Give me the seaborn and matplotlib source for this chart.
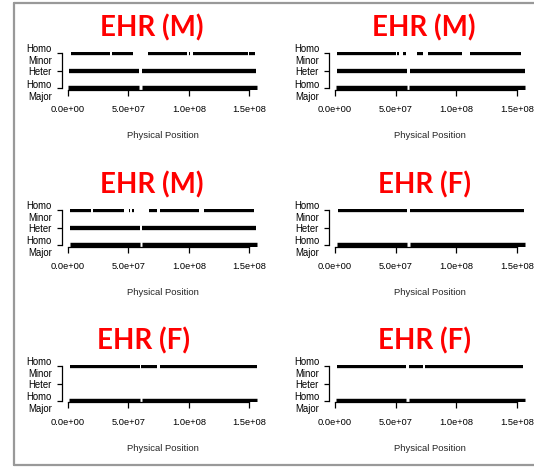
import numpy as np
import pandas as pd
import matplotlib
matplotlib.use('Agg')
import matplotlib.pyplot as plt
from matplotlib.lines import Line2D
import seaborn as sns

# Panel titles, left-to-right then top-to-bottom
panel_titles = ["EHR (M)", "EHR (M)", "EHR (M)", "EHR (F)", "EHR (F)", "EHR (F)"]

# Genotype runs (start, end) in Mb
minor_mb = [
    [(2.5, 35), (36.4, 53.7), (66.5, 98.5), (99.8, 101), (103.5, 148.8), (150, 155)],
    [(1.9, 50.3), (51.4, 53), (55.8, 59), (67.9, 72.8), (76.4, 105.2), (111.3, 153.8)],
    [(1.6, 19.3), (20.7, 46.8), (50.4, 51.8), (53.4, 55.1), (67.2, 73.8), (76, 108.3),
     (112.9, 148.8), (149.3, 153.7)],
    [(2.2, 59.8), (62, 156.2)],
    [(1.7, 59.5), (60.9, 73.8), (76, 156.5)],
    [(1.4, 58.7), (60.9, 72.6), (74, 154.8)],
]
heter_mb = [
    [(1, 59), (61, 155.4)],
    [(1.9, 59.6), (61.8, 156.6)],
    [(1.6, 59.5), (61.4, 155.6)],
    [],
    [],
    [],
]
major_mb = [
    [(0.5, 59), (61, 156)],
    [(0.8, 59.6), (61.5, 157)],
    [(1.6, 59.5), (61.4, 156.4)],
    [(1.4, 59.8), (62, 157)],
    [(0.8, 59.5), (61.4, 156.5)],
    [(0.5, 58.7), (60.9, 156.8)],
]

x_ticks = [0, 5e7, 1e8, 1.5e8]
x_tick_labels = ["0.0e+00", "5.0e+07", "1.0e+08", "1.5e+08"]
y_ticks = [0, 1, 2]
y_tick_labels = ["Homo\nMajor", "Heter", "Homo\nMinor"]

# Build one long table of segment endpoints
rows = []
seg = 0
for p in range(6):
    for level, runs in ((2, minor_mb[p]), (1, heter_mb[p]), (0, major_mb[p])):
        for start, end in runs:
            rows.append((p, level, seg, start * 1e6))
            rows.append((p, level, seg, end * 1e6))
            seg += 1
df = pd.DataFrame(rows, columns=['panel', 'level', 'seg', 'pos'])

sns.set_style('ticks')
plt.rcParams['font.family'] = ['Liberation Sans', 'DejaVu Sans']

W, H = 534, 473
fig = plt.figure(figsize=(W / 100, H / 100), dpi=100)

# pixel anchors: x of 0 and 1.5e8, y of top level and bottom level
col_x = [(67.7, 249.3), (335.0, 516.7)]
row_y = [(53.3, 88.5), (210.0, 245.3), (366.0, 401.0)]
title_x = [152, 424, 152, 424, 143.5, 424.5]
title_base = [36.5, 36.5, 193, 193, 349, 349]

xlo, xhi = -5e6, 1.622e8
ylo, yhi = -0.07, 2.08

for p in range(6):
    r, c = divmod(p, 2)
    x0, x1 = col_x[c]
    yt, yb = row_y[r]
    xs = (x1 - x0) / 1.5e8
    ys = (yb - yt) / 2
    left = x0 + xlo * xs
    right = x0 + xhi * xs
    top = yt - (yhi - 2) * ys
    bottom = yb - ylo * ys
    ax = fig.add_axes([left / W, 1 - bottom / H, (right - left) / W, (bottom - top) / H])
    ax.patch.set_alpha(0)

    sub = df[df['panel'] == p]
    for level, lw in ((2, 3.1), (1, 3.1), (0, 3.9)):
        d = sub[sub['level'] == level]
        if len(d) == 0:
            continue
        sns.lineplot(data=d, x='pos', y='level', units='seg', estimator=None,
                     color='black', linewidth=lw, ax=ax, legend=False,
                     solid_capstyle='butt')

    ax.set_xlim(xlo, xhi)
    ax.set_ylim(ylo, yhi)
    ax.set_xticks(x_ticks, x_tick_labels)
    ax.set_yticks(y_ticks, y_tick_labels)
    for t in ax.get_yticklabels():
        t.set_linespacing(1.25)
    ax.tick_params(axis='x', length=4.2, width=0.9, pad=7, labelsize=6.7, colors='black')
    ax.tick_params(axis='y', length=3.6, width=0.9, pad=3.5, labelsize=6.9, colors='black')
    for s in ('top', 'right'):
        ax.spines[s].set_visible(False)
    ax.spines['left'].set_bounds(0, 2)
    ax.spines['bottom'].set_bounds(0, 1.5e8)
    for s in ('left', 'bottom'):
        ax.spines[s].set_linewidth(0.9)
        ax.spines[s].set_color('black')
    ax.set_ylabel('')
    ax.set_xlabel('Physical Position', fontsize=6.8)
    ax.xaxis.set_label_coords(0.5, -(yb + 43 - bottom) / (bottom - top))

    fig.text(title_x[p] / W, 1 - title_base[p] / H, panel_titles[p], color='#FF0000',
             fontsize=20, fontweight='bold', family=['Lato', 'DejaVu Sans'],
             ha='center', va='baseline')

# grey frame on left, top and bottom
def px(x, y):
    return x / W, 1 - y / H

for (xa, ya), (xb, yb2) in (((14, 3), (534, 3)), ((14, 3), (14, 465)), ((14, 465), (534, 465))):
    (fx0, fy0), (fx1, fy1) = px(xa, ya), px(xb, yb2)
    fig.add_artist(Line2D([fx0, fx1], [fy0, fy1], color='#999999', linewidth=1.6,
                          transform=fig.transFigure))

fig.savefig('out.png', dpi=100)
